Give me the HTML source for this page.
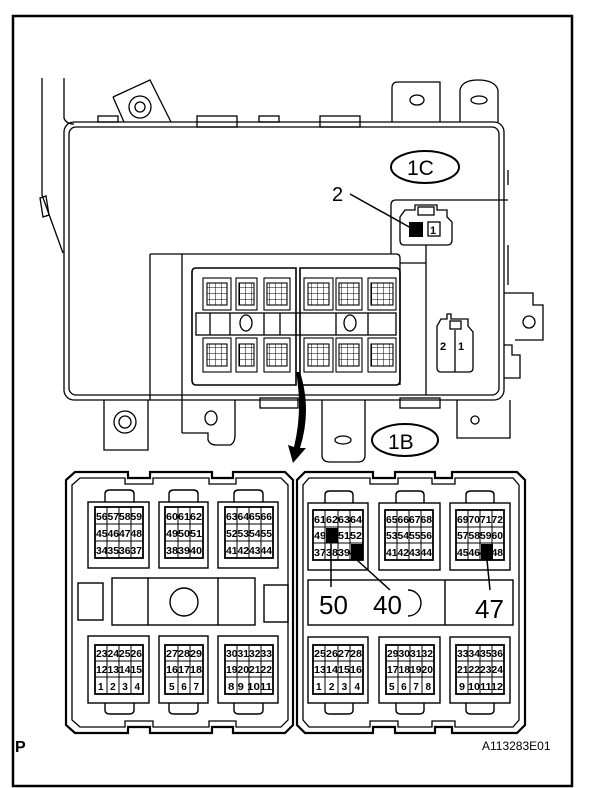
<!DOCTYPE html>
<html><head><meta charset="utf-8"><style>
html,body{margin:0;padding:0;background:#fff}
svg{display:block}
text{font-family:"Liberation Sans",sans-serif;fill:#000}
.g text{font-size:10px;font-weight:bold}
</style></head><body>
<svg width="608" height="788" viewBox="0 0 608 788" xmlns="http://www.w3.org/2000/svg">
<defs>
<pattern id="gp" width="6" height="6" patternUnits="userSpaceOnUse"><path d="M6 0V6M0 6H6" stroke="#000" stroke-width="1" fill="none"/></pattern>
</defs>
<rect x="13" y="16" width="559" height="770" fill="none" stroke="#000" stroke-width="2.5"/>
<g fill="none" stroke="#000" stroke-width="1.3">
<path d="M42 78V195L63 253"/><path d="M64 78V118Q66 124 74 124"/>
<path d="M40 198L46 196L49 215L43 217Z"/>
<rect x="64" y="122" width="440" height="278" rx="10"/>
<rect x="69" y="127" width="430" height="268" rx="7"/>
<path d="M113 97L150 80L171 122"/><path d="M113 97L124 122"/>
<circle cx="140" cy="107" r="11"/><circle cx="140" cy="107" r="5"/>
<rect x="98" y="116" width="20" height="6"/><rect x="197" y="116" width="40" height="11"/><rect x="259" y="116" width="20" height="6"/><rect x="320" y="116" width="40" height="11"/>
<path d="M392 122V88Q392 82 398 82H440V122"/><ellipse cx="417" cy="100" rx="7" ry="5"/>
<path d="M460 122V90Q462 80 478 80Q495 80 498 90V122"/><ellipse cx="479" cy="100" rx="8" ry="4"/>
<ellipse cx="425" cy="167" rx="34" ry="16" stroke-width="2"/>
<path d="M350 194L411 228" stroke-width="1.5"/>
<path d="M391 254V205Q391 200 396 200H508"/>
<path d="M426 245V395"/><path d="M400 263H426"/>
<path d="M508 170V185M508 245V285"/>
<path d="M404 245H447Q452 245 452 240V222L447 217V210H437V205H415V210H405L400 217V240Q400 245 404 245Z"/>
<rect x="418" y="207" width="16" height="8"/>
<rect x="428" y="222" width="12" height="14"/>
<path d="M150 254H396Q400 254 400 258V385"/><path d="M150 254V400M182 254V433"/>
<path d="M504 293H533V305H543V340H515"/><circle cx="529" cy="322" r="6"/>
<path d="M504 345H512V355H520V378H504"/>
<path d="M441 372H469Q473 372 473 368V332L468 326V319H451V314H447V319H441L437 326V368Q437 372 441 372Z"/>
<path d="M455 330V372"/><rect x="450" y="321" width="11" height="8"/>
<path d="M104 400V450H148V400"/><circle cx="125" cy="422" r="11"/><circle cx="125" cy="422" r="6"/>
<path d="M182 433H208V440Q210 445 216 445H230Q235 443 235 435V400"/><ellipse cx="211" cy="418" rx="6" ry="7"/>
<path d="M322 400V455Q322 462 330 462H358Q365 462 365 455V400"/><ellipse cx="343" cy="440" rx="8" ry="4"/>
<rect x="260" y="398" width="38" height="10"/><rect x="400" y="398" width="40" height="10"/>
<path d="M457 400V438H510V400"/><circle cx="475" cy="420" r="4"/>
<ellipse cx="405" cy="440" rx="33" ry="16" stroke-width="2"/>
<path d="M196 268H296V385H196Q192 385 192 380V272Q192 268 196 268Z" stroke-width="1.6"/>
<path d="M300 268H396Q400 268 400 272V380Q400 385 396 385H300Z" stroke-width="1.6"/>
<rect x="196" y="313" width="200" height="22"/>
<path d="M210 313V335M230 313V335M264 313V335M280 313V335M336 313V335M368 313V335"/>
<ellipse cx="246" cy="323" rx="6" ry="8"/><ellipse cx="350" cy="323" rx="6" ry="8"/>
</g>
<g stroke="#000" stroke-width="1.1">
<rect x="203" y="278" width="28" height="32" fill="none"/><rect x="207" y="283" width="20" height="22" fill="url(#gp)"/>
<rect x="236" y="278" width="21" height="32" fill="none"/><rect x="239" y="283" width="15" height="22" fill="url(#gp)"/>
<rect x="264" y="278" width="26" height="32" fill="none"/><rect x="267" y="283" width="20" height="22" fill="url(#gp)"/>
<rect x="304" y="278" width="29" height="32" fill="none"/><rect x="308" y="283" width="21" height="22" fill="url(#gp)"/>
<rect x="336" y="278" width="26" height="32" fill="none"/><rect x="339" y="283" width="20" height="22" fill="url(#gp)"/>
<rect x="368" y="278" width="28" height="32" fill="none"/><rect x="371" y="283" width="22" height="22" fill="url(#gp)"/>
<rect x="203" y="338" width="28" height="34" fill="none"/><rect x="207" y="344" width="20" height="22" fill="url(#gp)"/>
<rect x="236" y="338" width="21" height="34" fill="none"/><rect x="239" y="344" width="15" height="22" fill="url(#gp)"/>
<rect x="264" y="338" width="26" height="34" fill="none"/><rect x="267" y="344" width="20" height="22" fill="url(#gp)"/>
<rect x="304" y="338" width="29" height="34" fill="none"/><rect x="308" y="344" width="21" height="22" fill="url(#gp)"/>
<rect x="336" y="338" width="26" height="34" fill="none"/><rect x="339" y="344" width="20" height="22" fill="url(#gp)"/>
<rect x="368" y="338" width="28" height="34" fill="none"/><rect x="371" y="344" width="22" height="22" fill="url(#gp)"/>
</g>
<rect x="409" y="222" width="14" height="15" fill="#000"/>
<text x="430" y="234" font-size="11" font-weight="bold">1</text>
<text x="440" y="350" font-size="11" font-weight="bold">2</text><text x="458" y="350" font-size="11" font-weight="bold">1</text>
<text x="332" y="201" font-size="20">2</text>
<text x="407" y="175" font-size="21">1C</text>
<text x="388" y="449" font-size="21">1B</text>
<path d="M300 372Q312 410 300 448L306 448L293 463L288 445L294 447Q303 410 296 372Z" fill="#000"/>

<g fill="none" stroke="#000" stroke-width="2.2">
<path d="M75 472H128V478H150V472H212V478H233V472H285L293 480V725L285 733H233V727H212V733H150V727H128V733H75L66 725V480Z"/>
<path d="M80 478H125V484H153V478H209V484H236V478H281L288 485V720L281 727H236V721H209V727H153V721H125V727H80L72 720V485Z" stroke-width="1.3"/>
<path d="M305 472H373V478H395V472H435V478H452V472H517L525 480V725L517 733H452V727H435V733H395V727H373V733H305L297 725V480Z"/>
<path d="M309 478H370V484H398V478H432V484H455V478H513L519 485V720L513 727H455V721H432V727H398V721H370V727H309L303 720V485Z" stroke-width="1.3"/>
</g>
<g fill="none" stroke="#000" stroke-width="1.4">
<rect x="112" y="578" width="143" height="47"/><path d="M148 578V625M218 578V625"/><circle cx="184" cy="602" r="14"/>
<rect x="78" y="583" width="25" height="37"/><rect x="264" y="585" width="24" height="37"/>
<rect x="308" y="580" width="205" height="45"/><path d="M445 580V625"/>
<path d="M408 590A13 13 0 0 1 408 616"/>
<rect x="88" y="502" width="61" height="66"/><rect x="159" y="502" width="49" height="66"/><rect x="218" y="502" width="60" height="66"/>
<rect x="88" y="636" width="61" height="67"/><rect x="159" y="636" width="49" height="67"/><rect x="218" y="636" width="60" height="67"/>
<rect x="308" y="503" width="60" height="67"/><rect x="379" y="503" width="61" height="67"/><rect x="450" y="503" width="60" height="67"/>
<rect x="308" y="637" width="60" height="66"/><rect x="379" y="637" width="61" height="66"/><rect x="450" y="637" width="60" height="66"/>
<path d="M105 502V494Q105 490 110 490H129Q134 490 134 494V502M169 502V494Q169 490 174 490H193Q198 490 198 494V502M234 502V494Q234 490 239 490H258Q263 490 263 494V502"/>
<path d="M105 703V710Q105 714 110 714H129Q134 714 134 710V703M169 703V710Q169 714 174 714H193Q198 714 198 710V703M234 703V710Q234 714 239 714H258Q263 714 263 710V703"/>
<path d="M325 503V495Q325 491 330 491H348Q353 491 353 495V503M396 503V495Q396 491 401 491H419Q424 491 424 495V503M466 503V495Q466 491 471 491H489Q494 491 494 495V503"/>
<path d="M325 703V710Q325 714 330 714H348Q353 714 353 710V703M396 703V710Q396 714 401 714H419Q424 714 424 710V703M466 703V710Q466 714 471 714H489Q494 714 494 710V703"/>
</g>
<g fill="none" stroke="#000" stroke-width="1">
<rect x="95" y="507" width="48" height="51" stroke-width="1.8"/><path d="M107 507V558M119 507V558M131 507V558M95 524H143M95 541H143"/>
<rect x="165" y="507" width="38" height="51" stroke-width="1.8"/><path d="M178 507V558M190 507V558M165 524H203M165 541H203"/>
<rect x="225" y="507" width="48" height="51" stroke-width="1.8"/><path d="M237 507V558M249 507V558M261 507V558M225 524H273M225 541H273"/>
<rect x="95" y="645" width="48" height="49" stroke-width="1.8"/><path d="M107 645V694M119 645V694M131 645V694M95 661H143M95 677H143"/>
<rect x="165" y="645" width="38" height="49" stroke-width="1.8"/><path d="M178 645V694M190 645V694M165 661H203M165 677H203"/>
<rect x="225" y="645" width="48" height="49" stroke-width="1.8"/><path d="M237 645V694M249 645V694M261 645V694M225 661H273M225 677H273"/>
<rect x="313" y="510" width="50" height="50" stroke-width="1.8"/><path d="M325 510V560M338 510V560M350 510V560M313 527H363M313 543H363"/>
<rect x="385" y="510" width="48" height="50" stroke-width="1.8"/><path d="M397 510V560M409 510V560M421 510V560M385 527H433M385 543H433"/>
<rect x="456" y="510" width="48" height="50" stroke-width="1.8"/><path d="M468 510V560M480 510V560M492 510V560M456 527H504M456 543H504"/>
<rect x="313" y="645" width="50" height="49" stroke-width="1.8"/><path d="M325 645V694M338 645V694M350 645V694M313 661H363M313 677H363"/>
<rect x="386" y="645" width="48" height="49" stroke-width="1.8"/><path d="M398 645V694M410 645V694M422 645V694M386 661H434M386 677H434"/>
<rect x="456" y="645" width="48" height="49" stroke-width="1.8"/><path d="M468 645V694M480 645V694M492 645V694M456 661H504M456 677H504"/>
</g>
<g class="g">
<text x="96" y="520" textLength="46" lengthAdjust="spacingAndGlyphs">56575859</text>
<text x="96" y="537" textLength="46" lengthAdjust="spacingAndGlyphs">45464748</text>
<text x="96" y="554" textLength="46" lengthAdjust="spacingAndGlyphs">34353637</text>
<text x="166" y="520" textLength="36" lengthAdjust="spacingAndGlyphs">606162</text>
<text x="166" y="537" textLength="36" lengthAdjust="spacingAndGlyphs">495051</text>
<text x="166" y="554" textLength="36" lengthAdjust="spacingAndGlyphs">383940</text>
<text x="226" y="520" textLength="46" lengthAdjust="spacingAndGlyphs">63646566</text>
<text x="226" y="537" textLength="46" lengthAdjust="spacingAndGlyphs">52535455</text>
<text x="226" y="554" textLength="46" lengthAdjust="spacingAndGlyphs">41424344</text>
<text x="96" y="657" textLength="46" lengthAdjust="spacingAndGlyphs">23242526</text>
<text x="96" y="673" textLength="46" lengthAdjust="spacingAndGlyphs">12131415</text>
<text x="98" y="690" textLength="42" lengthAdjust="spacing">1 2 3 4</text>
<text x="166" y="657" textLength="36" lengthAdjust="spacingAndGlyphs">272829</text>
<text x="166" y="673" textLength="36" lengthAdjust="spacingAndGlyphs">161718</text>
<text x="169" y="690" textLength="30" lengthAdjust="spacing">5 6 7</text>
<text x="226" y="657" textLength="46" lengthAdjust="spacingAndGlyphs">30313233</text>
<text x="226" y="673" textLength="46" lengthAdjust="spacingAndGlyphs">19202122</text>
<text x="228" y="690" textLength="44" lengthAdjust="spacingAndGlyphs">8 9 1011</text>
<text x="314" y="523" textLength="48" lengthAdjust="spacingAndGlyphs">61626364</text>
<text x="314" y="539" textLength="48" lengthAdjust="spacingAndGlyphs">49505152</text>
<text x="314" y="556" textLength="48" lengthAdjust="spacingAndGlyphs">37383940</text>
<text x="386" y="523" textLength="46" lengthAdjust="spacingAndGlyphs">65666768</text>
<text x="386" y="539" textLength="46" lengthAdjust="spacingAndGlyphs">53545556</text>
<text x="386" y="556" textLength="46" lengthAdjust="spacingAndGlyphs">41424344</text>
<text x="457" y="523" textLength="46" lengthAdjust="spacingAndGlyphs">69707172</text>
<text x="457" y="539" textLength="46" lengthAdjust="spacingAndGlyphs">57585960</text>
<text x="457" y="556" textLength="46" lengthAdjust="spacingAndGlyphs">45464748</text>
<text x="314" y="657" textLength="48" lengthAdjust="spacingAndGlyphs">25262728</text>
<text x="314" y="673" textLength="48" lengthAdjust="spacingAndGlyphs">13141516</text>
<text x="316" y="690" textLength="44" lengthAdjust="spacing">1 2 3 4</text>
<text x="387" y="657" textLength="46" lengthAdjust="spacingAndGlyphs">29303132</text>
<text x="387" y="673" textLength="46" lengthAdjust="spacingAndGlyphs">17181920</text>
<text x="389" y="690" textLength="42" lengthAdjust="spacing">5 6 7 8</text>
<text x="457" y="657" textLength="46" lengthAdjust="spacingAndGlyphs">33343536</text>
<text x="457" y="673" textLength="46" lengthAdjust="spacingAndGlyphs">21222324</text>
<text x="459" y="690" textLength="44" lengthAdjust="spacingAndGlyphs">9 101112</text>
</g>
<rect x="326" y="528" width="12" height="15" fill="#000"/>
<rect x="351" y="544" width="12" height="16" fill="#000"/>
<rect x="481" y="544" width="12" height="16" fill="#000"/>
<path d="M331 543V587M357 560L390 590M487 560L490 590" stroke="#000" stroke-width="1.5"/>
<text x="319" y="614" font-size="26">50</text>
<text x="373" y="614" font-size="26">40</text>
<text x="475" y="618" font-size="26">47</text>
<text x="15" y="752" font-size="16" font-weight="bold">P</text>
<text x="482" y="750" font-size="12">A113283E01</text>
</svg>
</body></html>
